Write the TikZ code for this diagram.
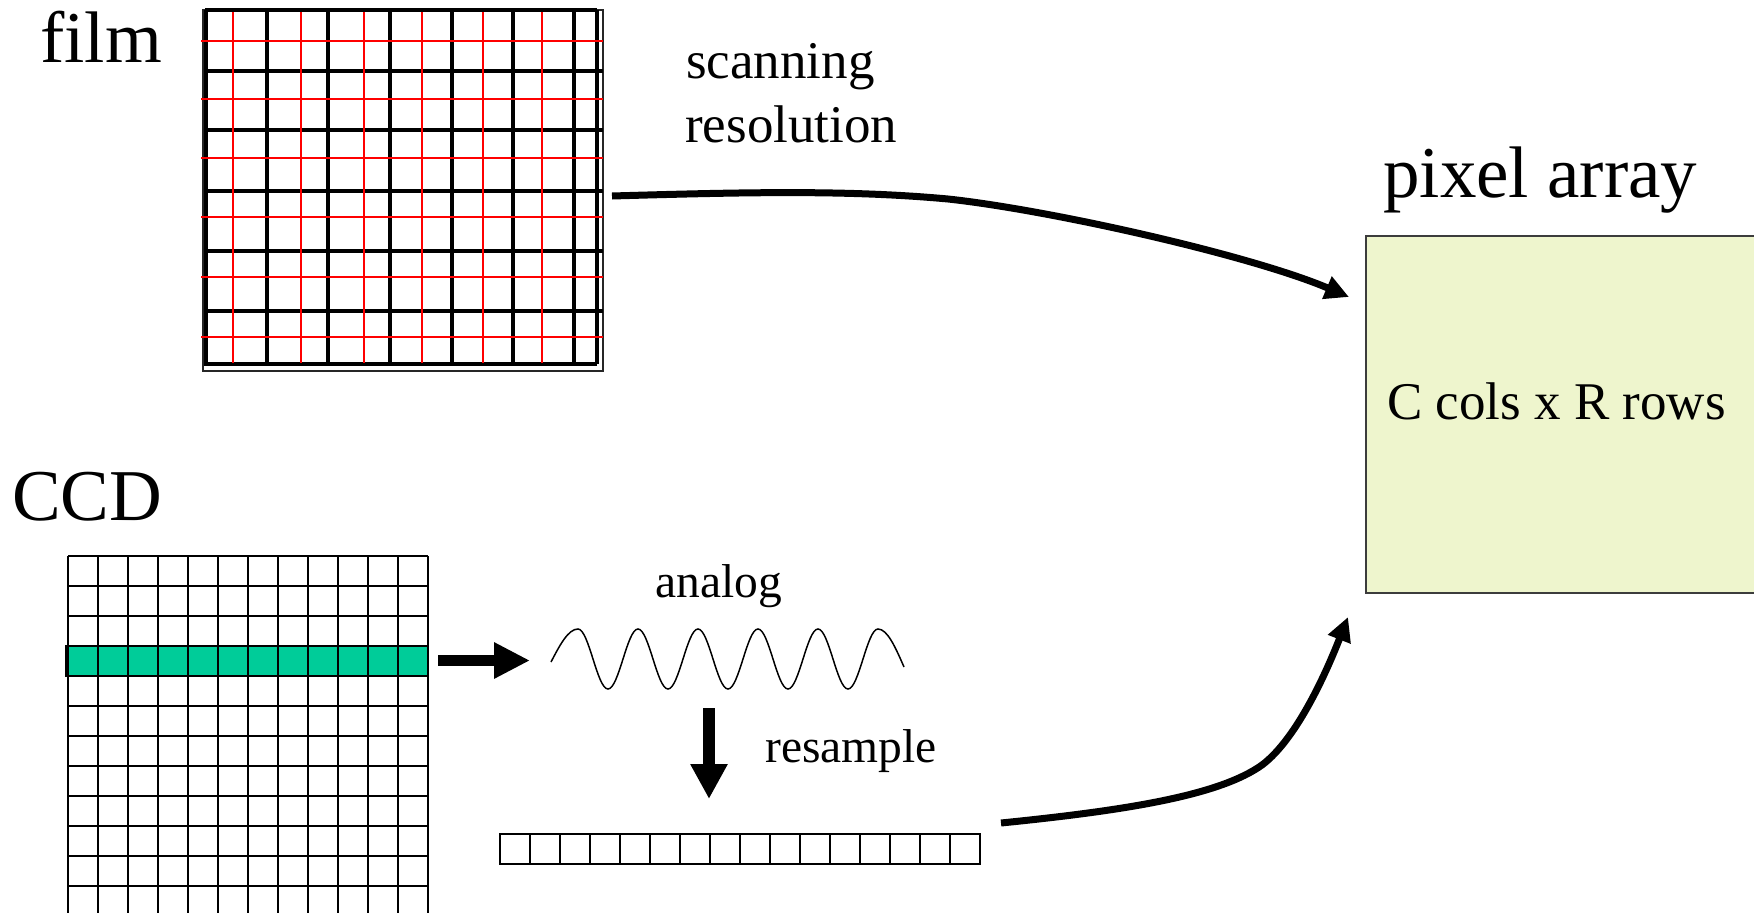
\documentclass[tikz,border=0pt]{standalone}
\usepackage{fontspec}
\setmainfont{Liberation Serif}
\usetikzlibrary{arrows.meta}
\definecolor{filmred}{RGB}{255,0,0}
\definecolor{ccdgreen}{RGB}{0,204,153}
\definecolor{pixfill}{RGB}{238,245,205}
\definecolor{pixline}{RGB}{60,60,60}
\begin{document}
\begin{tikzpicture}[x=1pt,y=-1pt,
  lbl/.style={inner sep=0pt, anchor=base west},
  big/.style={lbl, font=\fontsize{73}{88}\selectfont},
  mid/.style={lbl, font=\fontsize{53}{64}\selectfont},
  sml/.style={lbl, font=\fontsize{47.5}{57}\selectfont},
  filmline/.style={line width=3.3pt, black},
  redline/.style={line width=2.7pt, filmred},
  cell/.style={line width=2.3pt, black},
  stripcell/.style={line width=1.6pt, black},
  curvedarrow/.style={line width=7pt, -{Triangle[length=24pt,width=23pt]}},
  blockarrow/.style={line width=11pt, -{Triangle[length=36pt,width=34pt]}},
  wave/.style={line width=1.5pt, black},
]
\useasboundingbox (0,0) rectangle (1754,913);

% ---------- film grid ----------
\draw[line width=1.5pt, black!85] (203,10) rectangle (603,371);
\foreach \x in {267,328,390,452,513,574,597}
  \draw[filmline] (\x,10) -- (\x,364);
\draw[line width=4pt] (205.5,10) -- (205.5,366);
\foreach \y in {10,364}
  \draw[filmline] (205,\y) -- (597,\y);
\foreach \y in {71,130,191,251,311}
  \draw[filmline] (205,\y) -- (603,\y);
\foreach \y in {41,99,158,217,277,337}
  \draw[redline, line width=2pt] (201,\y) -- (603,\y);
\foreach \x in {233,301,364,422,483,542}
  \draw[redline] (\x,12) -- (\x,363);

% ---------- CCD grid ----------
\fill[ccdgreen] (68,646) rectangle (428,676);
\foreach \i in {0,...,12}
  \draw[cell] ({68+30*\i},556) -- ({68+30*\i},916);
\foreach \i in {0,...,12}
  \draw[cell] (68,{556+30*\i}) -- (428,{556+30*\i});
\draw[cell] (66,646) rectangle (428,676);

% ---------- resampled strip ----------
\foreach \i in {0,...,15}
  \draw[stripcell] ({500+30*\i},834) rectangle ({530+30*\i},864);

% ---------- analog wave ----------
\draw[wave] (551,662) sin (578,629) cos (593,659) sin (608,689) cos (623,659)
  sin (638,629) cos (653,659) sin (668,689) cos (683,659)
  sin (698,629) cos (713,659) sin (728,689) cos (743,659)
  sin (758,629) cos (773,659) sin (788,689) cos (803,659)
  sin (818,629) cos (833,659) sin (848,689) cos (863,659)
  sin (878,629) cos (904,667);

% ---------- pixel array ----------
\node[draw=pixline, line width=2pt, fill=pixfill, minimum width=393pt,
      minimum height=357pt, inner sep=0pt, anchor=north west] (pix) at (1365,235) {};

% ---------- labels ----------
\node[big] (filmlbl) at (40,62) {film};
\node[big] (ccdlbl) at (12,520) {CCD};
\node[big] (pixlbl) at (1383,197) {pixel array};
\node[mid] (scan) at (686,78) {scanning};
\node[mid] (reso) at (685,142) {resolution};
\node[mid] (dims) at (1387,419) {C cols x R rows};
\node[sml] (analog) at (655,597) {analog};
\node[sml] (resamp) at (765,762) {resample};

% ---------- connectors ----------
\coordinate (filmout) at (612,196);
\coordinate (pixin1) at (1349,297);
\coordinate (stripout) at (1001,823);
\coordinate (pixin2) at (1348,617);
\coordinate (rowout) at (438,660.5);
\coordinate (wavein) at (530,660.5);
\coordinate (waveout) at (709,708);
\coordinate (stripin) at (709,799);

\draw[curvedarrow] (filmout) .. controls (750,192) and (850,190) .. (948,199)
  .. controls (1050,210) and (1250,255) .. (pixin1);
\draw[curvedarrow] (stripout) .. controls (1130,810) and (1220,795) .. (1262,765)
  .. controls (1298,738) and (1328,668) .. (pixin2);
\draw[blockarrow] (rowout) -- (wavein);
\draw[blockarrow, line width=12pt, -{Triangle[length=35pt,width=35pt]}] (waveout) -- (stripin);
\end{tikzpicture}
\end{document}
